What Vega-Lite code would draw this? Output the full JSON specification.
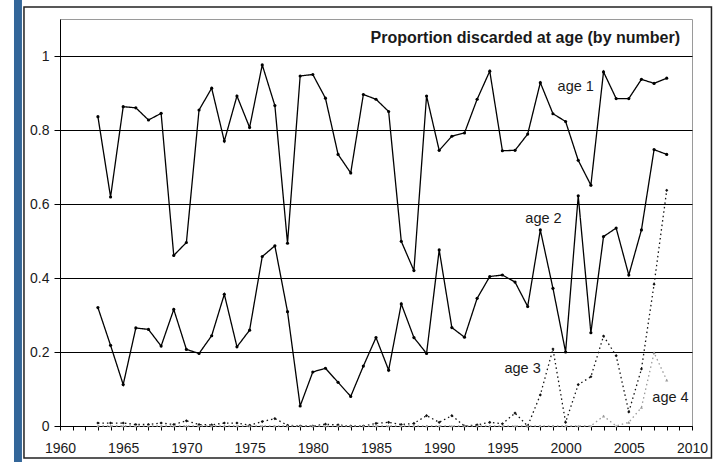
{
  "$schema": "https://vega.github.io/schema/vega-lite/v6.json",
  "width": 632,
  "height": 407,
  "autosize": {"type": "none"},
  "padding": {"left": 60, "top": 19, "right": 22, "bottom": 36},
  "background": "white",
  "config": {
    "font": "Liberation Sans",
    "view": {"stroke": "#9a9a9a", "strokeWidth": 1},
    "axis": {
      "domainColor": "#000000",
      "tickColor": "#000000",
      "labelColor": "#1a1a1a",
      "labelFont": "Liberation Sans",
      "labelFontSize": 14,
      "gridColor": "#000000",
      "gridWidth": 1,
      "gridOpacity": 1
    }
  },
  "data": {"values": [{}]},
  "datasets": {
    "discards": [
      {"year": 1963, "age": "age 1", "value": 0.836}, {"year": 1964, "age": "age 1", "value": 0.619},
      {"year": 1965, "age": "age 1", "value": 0.863}, {"year": 1966, "age": "age 1", "value": 0.86},
      {"year": 1967, "age": "age 1", "value": 0.827}, {"year": 1968, "age": "age 1", "value": 0.845},
      {"year": 1969, "age": "age 1", "value": 0.461}, {"year": 1970, "age": "age 1", "value": 0.496},
      {"year": 1971, "age": "age 1", "value": 0.854}, {"year": 1972, "age": "age 1", "value": 0.913},
      {"year": 1973, "age": "age 1", "value": 0.77}, {"year": 1974, "age": "age 1", "value": 0.892},
      {"year": 1975, "age": "age 1", "value": 0.807}, {"year": 1976, "age": "age 1", "value": 0.976},
      {"year": 1977, "age": "age 1", "value": 0.866}, {"year": 1978, "age": "age 1", "value": 0.494},
      {"year": 1979, "age": "age 1", "value": 0.946}, {"year": 1980, "age": "age 1", "value": 0.95},
      {"year": 1981, "age": "age 1", "value": 0.886}, {"year": 1982, "age": "age 1", "value": 0.734},
      {"year": 1983, "age": "age 1", "value": 0.684}, {"year": 1984, "age": "age 1", "value": 0.896},
      {"year": 1985, "age": "age 1", "value": 0.883}, {"year": 1986, "age": "age 1", "value": 0.85},
      {"year": 1987, "age": "age 1", "value": 0.499}, {"year": 1988, "age": "age 1", "value": 0.42},
      {"year": 1989, "age": "age 1", "value": 0.892}, {"year": 1990, "age": "age 1", "value": 0.745},
      {"year": 1991, "age": "age 1", "value": 0.783}, {"year": 1992, "age": "age 1", "value": 0.792},
      {"year": 1993, "age": "age 1", "value": 0.883}, {"year": 1994, "age": "age 1", "value": 0.959},
      {"year": 1995, "age": "age 1", "value": 0.744}, {"year": 1996, "age": "age 1", "value": 0.745},
      {"year": 1997, "age": "age 1", "value": 0.789}, {"year": 1998, "age": "age 1", "value": 0.928},
      {"year": 1999, "age": "age 1", "value": 0.844}, {"year": 2000, "age": "age 1", "value": 0.823},
      {"year": 2001, "age": "age 1", "value": 0.718}, {"year": 2002, "age": "age 1", "value": 0.651},
      {"year": 2003, "age": "age 1", "value": 0.957}, {"year": 2004, "age": "age 1", "value": 0.885},
      {"year": 2005, "age": "age 1", "value": 0.885}, {"year": 2006, "age": "age 1", "value": 0.937},
      {"year": 2007, "age": "age 1", "value": 0.926}, {"year": 2008, "age": "age 1", "value": 0.94},

      {"year": 1963, "age": "age 2", "value": 0.32}, {"year": 1964, "age": "age 2", "value": 0.218},
      {"year": 1965, "age": "age 2", "value": 0.112}, {"year": 1966, "age": "age 2", "value": 0.265},
      {"year": 1967, "age": "age 2", "value": 0.261}, {"year": 1968, "age": "age 2", "value": 0.216},
      {"year": 1969, "age": "age 2", "value": 0.315}, {"year": 1970, "age": "age 2", "value": 0.207},
      {"year": 1971, "age": "age 2", "value": 0.196}, {"year": 1972, "age": "age 2", "value": 0.244},
      {"year": 1973, "age": "age 2", "value": 0.356}, {"year": 1974, "age": "age 2", "value": 0.214},
      {"year": 1975, "age": "age 2", "value": 0.259}, {"year": 1976, "age": "age 2", "value": 0.458},
      {"year": 1977, "age": "age 2", "value": 0.487}, {"year": 1978, "age": "age 2", "value": 0.309},
      {"year": 1979, "age": "age 2", "value": 0.054}, {"year": 1980, "age": "age 2", "value": 0.146},
      {"year": 1981, "age": "age 2", "value": 0.156}, {"year": 1982, "age": "age 2", "value": 0.118},
      {"year": 1983, "age": "age 2", "value": 0.08}, {"year": 1984, "age": "age 2", "value": 0.162},
      {"year": 1985, "age": "age 2", "value": 0.239}, {"year": 1986, "age": "age 2", "value": 0.151},
      {"year": 1987, "age": "age 2", "value": 0.33}, {"year": 1988, "age": "age 2", "value": 0.239},
      {"year": 1989, "age": "age 2", "value": 0.196}, {"year": 1990, "age": "age 2", "value": 0.476},
      {"year": 1991, "age": "age 2", "value": 0.266}, {"year": 1992, "age": "age 2", "value": 0.24},
      {"year": 1993, "age": "age 2", "value": 0.345}, {"year": 1994, "age": "age 2", "value": 0.404},
      {"year": 1995, "age": "age 2", "value": 0.408}, {"year": 1996, "age": "age 2", "value": 0.389},
      {"year": 1997, "age": "age 2", "value": 0.323}, {"year": 1998, "age": "age 2", "value": 0.53},
      {"year": 1999, "age": "age 2", "value": 0.372}, {"year": 2000, "age": "age 2", "value": 0.2},
      {"year": 2001, "age": "age 2", "value": 0.622}, {"year": 2002, "age": "age 2", "value": 0.252},
      {"year": 2003, "age": "age 2", "value": 0.512}, {"year": 2004, "age": "age 2", "value": 0.535},
      {"year": 2005, "age": "age 2", "value": 0.408}, {"year": 2006, "age": "age 2", "value": 0.53},
      {"year": 2007, "age": "age 2", "value": 0.747}, {"year": 2008, "age": "age 2", "value": 0.734},

      {"year": 1963, "age": "age 3", "value": 0.008}, {"year": 1964, "age": "age 3", "value": 0.008},
      {"year": 1965, "age": "age 3", "value": 0.008}, {"year": 1966, "age": "age 3", "value": 0.004},
      {"year": 1967, "age": "age 3", "value": 0.004}, {"year": 1968, "age": "age 3", "value": 0.008},
      {"year": 1969, "age": "age 3", "value": 0.004}, {"year": 1970, "age": "age 3", "value": 0.014},
      {"year": 1971, "age": "age 3", "value": 0.004}, {"year": 1972, "age": "age 3", "value": 0.003},
      {"year": 1973, "age": "age 3", "value": 0.008}, {"year": 1974, "age": "age 3", "value": 0.008},
      {"year": 1975, "age": "age 3", "value": 0.002}, {"year": 1976, "age": "age 3", "value": 0.012},
      {"year": 1977, "age": "age 3", "value": 0.02}, {"year": 1978, "age": "age 3", "value": 0.002},
      {"year": 1979, "age": "age 3", "value": 0.0}, {"year": 1980, "age": "age 3", "value": 0.0},
      {"year": 1981, "age": "age 3", "value": 0.005}, {"year": 1982, "age": "age 3", "value": 0.003},
      {"year": 1983, "age": "age 3", "value": 0.0}, {"year": 1984, "age": "age 3", "value": 0.0},
      {"year": 1985, "age": "age 3", "value": 0.007}, {"year": 1986, "age": "age 3", "value": 0.01},
      {"year": 1987, "age": "age 3", "value": 0.004}, {"year": 1988, "age": "age 3", "value": 0.007},
      {"year": 1989, "age": "age 3", "value": 0.028}, {"year": 1990, "age": "age 3", "value": 0.01},
      {"year": 1991, "age": "age 3", "value": 0.028}, {"year": 1992, "age": "age 3", "value": 0.0},
      {"year": 1993, "age": "age 3", "value": 0.003}, {"year": 1994, "age": "age 3", "value": 0.01},
      {"year": 1995, "age": "age 3", "value": 0.006}, {"year": 1996, "age": "age 3", "value": 0.035},
      {"year": 1997, "age": "age 3", "value": 0.0}, {"year": 1998, "age": "age 3", "value": 0.084},
      {"year": 1999, "age": "age 3", "value": 0.208}, {"year": 2000, "age": "age 3", "value": 0.01},
      {"year": 2001, "age": "age 3", "value": 0.112}, {"year": 2002, "age": "age 3", "value": 0.133},
      {"year": 2003, "age": "age 3", "value": 0.243}, {"year": 2004, "age": "age 3", "value": 0.19},
      {"year": 2005, "age": "age 3", "value": 0.038}, {"year": 2006, "age": "age 3", "value": 0.154},
      {"year": 2007, "age": "age 3", "value": 0.383}, {"year": 2008, "age": "age 3", "value": 0.637},

      {"year": 1963, "age": "age 4", "value": 0.0}, {"year": 1964, "age": "age 4", "value": 0.0},
      {"year": 1965, "age": "age 4", "value": 0.0}, {"year": 1966, "age": "age 4", "value": 0.0},
      {"year": 1967, "age": "age 4", "value": 0.0}, {"year": 1968, "age": "age 4", "value": 0.0},
      {"year": 1969, "age": "age 4", "value": 0.0}, {"year": 1970, "age": "age 4", "value": 0.0},
      {"year": 1971, "age": "age 4", "value": 0.0}, {"year": 1972, "age": "age 4", "value": 0.0},
      {"year": 1973, "age": "age 4", "value": 0.0}, {"year": 1974, "age": "age 4", "value": 0.0},
      {"year": 1975, "age": "age 4", "value": 0.0}, {"year": 1976, "age": "age 4", "value": 0.0},
      {"year": 1977, "age": "age 4", "value": 0.0}, {"year": 1978, "age": "age 4", "value": 0.0},
      {"year": 1979, "age": "age 4", "value": 0.0}, {"year": 1980, "age": "age 4", "value": 0.0},
      {"year": 1981, "age": "age 4", "value": 0.0}, {"year": 1982, "age": "age 4", "value": 0.0},
      {"year": 1983, "age": "age 4", "value": 0.0}, {"year": 1984, "age": "age 4", "value": 0.0},
      {"year": 1985, "age": "age 4", "value": 0.0}, {"year": 1986, "age": "age 4", "value": 0.0},
      {"year": 1987, "age": "age 4", "value": 0.0}, {"year": 1988, "age": "age 4", "value": 0.0},
      {"year": 1989, "age": "age 4", "value": 0.0}, {"year": 1990, "age": "age 4", "value": 0.0},
      {"year": 1991, "age": "age 4", "value": 0.0}, {"year": 1992, "age": "age 4", "value": 0.0},
      {"year": 1993, "age": "age 4", "value": 0.0}, {"year": 1994, "age": "age 4", "value": 0.0},
      {"year": 1995, "age": "age 4", "value": 0.0}, {"year": 1996, "age": "age 4", "value": 0.0},
      {"year": 1997, "age": "age 4", "value": 0.0}, {"year": 1998, "age": "age 4", "value": 0.0},
      {"year": 1999, "age": "age 4", "value": 0.0}, {"year": 2000, "age": "age 4", "value": 0.0},
      {"year": 2001, "age": "age 4", "value": 0.0}, {"year": 2002, "age": "age 4", "value": 0.0},
      {"year": 2003, "age": "age 4", "value": 0.027}, {"year": 2004, "age": "age 4", "value": 0.0},
      {"year": 2005, "age": "age 4", "value": 0.01}, {"year": 2006, "age": "age 4", "value": 0.05},
      {"year": 2007, "age": "age 4", "value": 0.198}, {"year": 2008, "age": "age 4", "value": 0.124}
    ],
    "seriesLabels": [
      {"label": "age 1", "year": 2000.8, "value": 0.915},
      {"label": "age 2", "year": 1998.25, "value": 0.559},
      {"label": "age 3", "year": 1996.6, "value": 0.154},
      {"label": "age 4", "year": 2008.3, "value": 0.077}
    ]
  },
  "layer": [
    {
      "data": {"name": "discards"},
      "mark": {"type": "line", "strokeWidth": 1.3},
      "encoding": {
        "x": {
          "field": "year", "type": "quantitative", "title": null,
          "scale": {"domain": [1960, 2010], "nice": false},
          "axis": {"values": [1960, 1961, 1962, 1963, 1964, 1965, 1966, 1967, 1968, 1969, 1970, 1971, 1972, 1973, 1974, 1975, 1976, 1977, 1978, 1979, 1980, 1981, 1982, 1983, 1984, 1985, 1986, 1987, 1988, 1989, 1990, 1991, 1992, 1993, 1994, 1995, 1996, 1997, 1998, 1999, 2000, 2001, 2002, 2003, 2004, 2005, 2006, 2007, 2008, 2009, 2010], "format": "d", "labelExpr": "datum.value % 5 === 0 ? datum.label : ''", "labelOverlap": false, "labelFlush": false, "ticks": true, "tickSize": 4, "labelPadding": 11, "grid": false}
        },
        "y": {
          "field": "value", "type": "quantitative", "title": null,
          "scale": {"domain": [0, 1.1], "nice": false},
          "axis": {"values": [0, 0.2, 0.4, 0.6, 0.8, 1], "format": "~g", "labelOverlap": false, "ticks": true, "tickSize": 6, "labelPadding": 5, "grid": true}
        },
        "detail": {"field": "age"},
        "color": {
          "field": "age", "type": "nominal", "legend": null,
          "scale": {"domain": ["age 1", "age 2", "age 3", "age 4"], "range": ["#000000", "#000000", "#111111", "#9a9a9a"]}
        },
        "strokeDash": {
          "field": "age", "type": "nominal", "legend": null,
          "scale": {"domain": ["age 1", "age 2", "age 3", "age 4"], "range": [[1, 0], [1, 0], [1.5, 3], [1.5, 3]]}
        }
      }
    },
    {
      "data": {"name": "discards"},
      "mark": {"type": "point", "filled": true, "size": 10, "opacity": 1},
      "encoding": {
        "x": {
          "field": "year", "type": "quantitative", "title": null,
          "scale": {"domain": [1960, 2010], "nice": false},
          "axis": {"values": [1960, 1961, 1962, 1963, 1964, 1965, 1966, 1967, 1968, 1969, 1970, 1971, 1972, 1973, 1974, 1975, 1976, 1977, 1978, 1979, 1980, 1981, 1982, 1983, 1984, 1985, 1986, 1987, 1988, 1989, 1990, 1991, 1992, 1993, 1994, 1995, 1996, 1997, 1998, 1999, 2000, 2001, 2002, 2003, 2004, 2005, 2006, 2007, 2008, 2009, 2010], "format": "d", "labelExpr": "datum.value % 5 === 0 ? datum.label : ''", "labelOverlap": false, "labelFlush": false, "ticks": true, "tickSize": 4, "labelPadding": 11, "grid": false}
        },
        "y": {
          "field": "value", "type": "quantitative", "title": null,
          "scale": {"domain": [0, 1.1], "nice": false},
          "axis": {"values": [0, 0.2, 0.4, 0.6, 0.8, 1], "format": "~g", "labelOverlap": false, "ticks": true, "tickSize": 6, "labelPadding": 5, "grid": true}
        },
        "color": {
          "field": "age", "type": "nominal", "legend": null,
          "scale": {"domain": ["age 1", "age 2", "age 3", "age 4"], "range": ["#000000", "#000000", "#111111", "#9a9a9a"]}
        },
        "shape": {
          "field": "age", "type": "nominal", "legend": null,
          "scale": {"domain": ["age 1", "age 2", "age 3", "age 4"], "range": ["circle", "circle", "diamond", "triangle-up"]}
        }
      }
    },
    {
      "data": {"name": "seriesLabels"},
      "mark": {"type": "text", "font": "Liberation Sans", "fontSize": 14.5, "color": "#1a1a1a", "align": "center", "baseline": "middle"},
      "encoding": {
        "x": {
          "field": "year", "type": "quantitative", "title": null,
          "scale": {"domain": [1960, 2010], "nice": false},
          "axis": {"values": [1960, 1961, 1962, 1963, 1964, 1965, 1966, 1967, 1968, 1969, 1970, 1971, 1972, 1973, 1974, 1975, 1976, 1977, 1978, 1979, 1980, 1981, 1982, 1983, 1984, 1985, 1986, 1987, 1988, 1989, 1990, 1991, 1992, 1993, 1994, 1995, 1996, 1997, 1998, 1999, 2000, 2001, 2002, 2003, 2004, 2005, 2006, 2007, 2008, 2009, 2010], "format": "d", "labelExpr": "datum.value % 5 === 0 ? datum.label : ''", "labelOverlap": false, "labelFlush": false, "ticks": true, "tickSize": 4, "labelPadding": 11, "grid": false}
        },
        "y": {
          "field": "value", "type": "quantitative", "title": null,
          "scale": {"domain": [0, 1.1], "nice": false},
          "axis": {"values": [0, 0.2, 0.4, 0.6, 0.8, 1], "format": "~g", "labelOverlap": false, "ticks": true, "tickSize": 6, "labelPadding": 5, "grid": true}
        },
        "text": {"field": "label"}
      }
    },
    {
      "description": "chart heading inside the plot area",
      "mark": {"type": "text", "font": "Liberation Sans", "fontWeight": "bold", "fontSize": 16, "color": "#1a1a1a", "align": "right", "baseline": "middle"},
      "encoding": {
        "x": {
          "datum": 2009.05, "type": "quantitative", "title": null,
          "scale": {"domain": [1960, 2010], "nice": false},
          "axis": {"values": [1960, 1961, 1962, 1963, 1964, 1965, 1966, 1967, 1968, 1969, 1970, 1971, 1972, 1973, 1974, 1975, 1976, 1977, 1978, 1979, 1980, 1981, 1982, 1983, 1984, 1985, 1986, 1987, 1988, 1989, 1990, 1991, 1992, 1993, 1994, 1995, 1996, 1997, 1998, 1999, 2000, 2001, 2002, 2003, 2004, 2005, 2006, 2007, 2008, 2009, 2010], "format": "d", "labelExpr": "datum.value % 5 === 0 ? datum.label : ''", "labelOverlap": false, "labelFlush": false, "ticks": true, "tickSize": 4, "labelPadding": 11, "grid": false}
        },
        "y": {
          "datum": 1.0486, "type": "quantitative", "title": null,
          "scale": {"domain": [0, 1.1], "nice": false},
          "axis": {"values": [0, 0.2, 0.4, 0.6, 0.8, 1], "format": "~g", "labelOverlap": false, "ticks": true, "tickSize": 6, "labelPadding": 5, "grid": true}
        },
        "text": {"value": "Proportion discarded at age (by number)"}
      }
    },
    {
      "description": "blue strip down the left side",
      "mark": {"type": "rect", "fill": "#336699", "clip": false},
      "encoding": {
        "x": {
          "datum": 1956.36, "type": "quantitative", "title": null,
          "scale": {"domain": [1960, 2010], "nice": false},
          "axis": {"values": [1960, 1961, 1962, 1963, 1964, 1965, 1966, 1967, 1968, 1969, 1970, 1971, 1972, 1973, 1974, 1975, 1976, 1977, 1978, 1979, 1980, 1981, 1982, 1983, 1984, 1985, 1986, 1987, 1988, 1989, 1990, 1991, 1992, 1993, 1994, 1995, 1996, 1997, 1998, 1999, 2000, 2001, 2002, 2003, 2004, 2005, 2006, 2007, 2008, 2009, 2010], "format": "d", "labelExpr": "datum.value % 5 === 0 ? datum.label : ''", "labelOverlap": false, "labelFlush": false, "ticks": true, "tickSize": 4, "labelPadding": 11, "grid": false}
        },
        "x2": {"datum": 1956.99},
        "y": {
          "datum": 1.17, "type": "quantitative", "title": null,
          "scale": {"domain": [0, 1.1], "nice": false},
          "axis": {"values": [0, 0.2, 0.4, 0.6, 0.8, 1], "format": "~g", "labelOverlap": false, "ticks": true, "tickSize": 6, "labelPadding": 5, "grid": true}
        },
        "y2": {"datum": -0.11}
      }
    },
    {
      "description": "outer chart frame",
      "mark": {"type": "rect", "filled": false, "stroke": "#222222", "strokeWidth": 1.5, "clip": false},
      "encoding": {
        "x": {
          "datum": 1957.15, "type": "quantitative", "title": null,
          "scale": {"domain": [1960, 2010], "nice": false},
          "axis": {"values": [1960, 1961, 1962, 1963, 1964, 1965, 1966, 1967, 1968, 1969, 1970, 1971, 1972, 1973, 1974, 1975, 1976, 1977, 1978, 1979, 1980, 1981, 1982, 1983, 1984, 1985, 1986, 1987, 1988, 1989, 1990, 1991, 1992, 1993, 1994, 1995, 1996, 1997, 1998, 1999, 2000, 2001, 2002, 2003, 2004, 2005, 2006, 2007, 2008, 2009, 2010], "format": "d", "labelExpr": "datum.value % 5 === 0 ? datum.label : ''", "labelOverlap": false, "labelFlush": false, "ticks": true, "tickSize": 4, "labelPadding": 11, "grid": false}
        },
        "x2": {"datum": 2011.54},
        "y": {
          "datum": 1.1324, "type": "quantitative", "title": null,
          "scale": {"domain": [0, 1.1], "nice": false},
          "axis": {"values": [0, 0.2, 0.4, 0.6, 0.8, 1], "format": "~g", "labelOverlap": false, "ticks": true, "tickSize": 6, "labelPadding": 5, "grid": true}
        },
        "y2": {"datum": -0.0865}
      }
    }
  ]
}
